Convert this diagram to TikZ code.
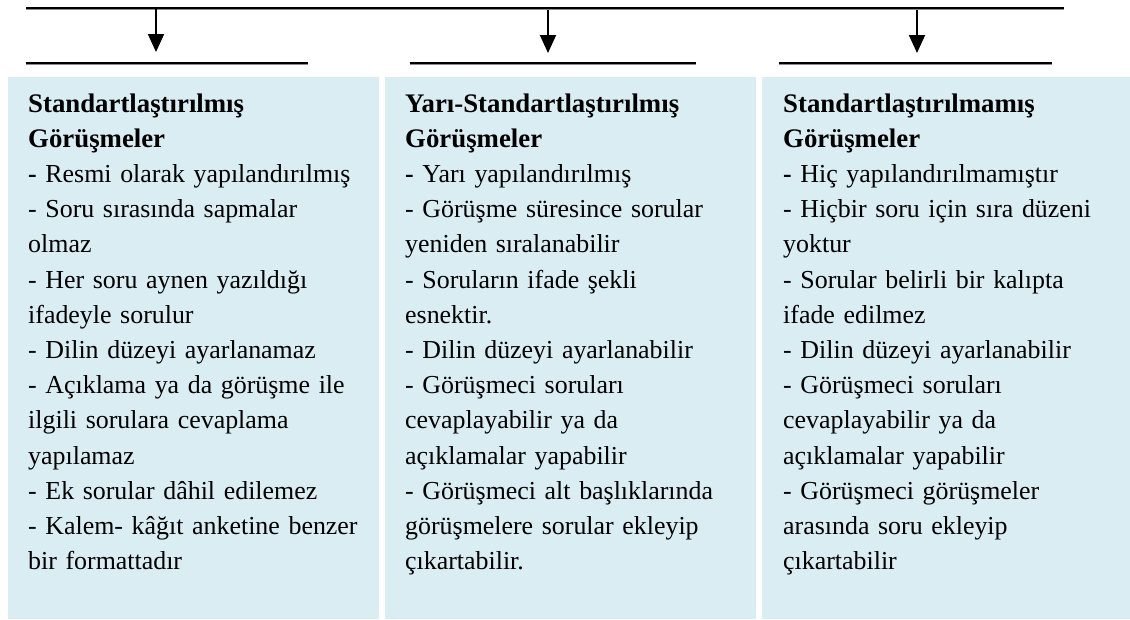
\documentclass[tikz,border=0pt]{standalone}
\usepackage{fontspec}
\setmainfont{Liberation Serif}
\usetikzlibrary{arrows.meta}
\definecolor{boxblue}{HTML}{DAEDF3}
\newcommand{\hd}[1]{{\fontsize{26.8}{35.2}\selectfont\textbf{#1}}}
\tikzset{
  panel/.style={fill=boxblue, draw=none},
  rule/.style={line width=2.4pt, draw=black},
  shade/.style={line width=1.2pt, draw=black!45},
  drop/.style={line width=1.8pt, -{Triangle[length=18pt,width=16pt]}},
  body/.style={anchor=base west, inner sep=0pt, text width=360pt, align=left,
    font=\fontsize{25.9}{35.2}\selectfont}
}
\begin{document}
\begin{tikzpicture}[x=1pt,y=-1pt]
\path[fill=white] (0,0) rectangle (1130,619);
\useasboundingbox (0,0) rectangle (1130,619);
% panels
\path[panel] (8,77) rectangle (379,619);
\path[panel] (385,77) rectangle (756,619);
\path[panel] (762,77) rectangle (1130,619);
% top rule
\coordinate (tl) at (26,8);
\coordinate (tr) at (1064,8);
\draw[shade] (26,9.5) -- (1064,9.5);
\draw[rule] (tl) -- (tr);
% lower rules
\coordinate (l1a) at (26,63); \coordinate (l1b) at (308,63);
\coordinate (l2a) at (410,63); \coordinate (l2b) at (696,63);
\coordinate (l3a) at (779,63); \coordinate (l3b) at (1052,63);
\draw[shade] (26,64.5) -- (308,64.5);
\draw[shade] (410,64.5) -- (696,64.5);
\draw[shade] (779,64.5) -- (1052,64.5);
\draw[rule] (l1a) -- (l1b);
\draw[rule] (l2a) -- (l2b);
\draw[rule] (l3a) -- (l3b);
% arrows
\coordinate (a1s) at (156,8);  \coordinate (a1e) at (156,52);
\coordinate (a2s) at (548,10); \coordinate (a2e) at (548,53);
\coordinate (a3s) at (917,10); \coordinate (a3e) at (917,53);
\draw[drop] (a1s) -- (a1e);
\draw[drop] (a2s) -- (a2e);
\draw[drop] (a3s) -- (a3e);
% texts
\node[body] (t1) at (28,112) {\hd{Standartlaştırılmış}\\
\hd{Görüşmeler}\\
\textbf{-} Resmi olarak yapılandırılmış\\
- Soru sırasında sapmalar\\
olmaz\\
- Her soru aynen yazıldığı\\
ifadeyle sorulur\\
- Dilin düzeyi ayarlanamaz\\
- Açıklama ya da görüşme ile\\
ilgili sorulara cevaplama\\
yapılamaz\\
- Ek sorular dâhil edilemez\\
- Kalem- kâğıt anketine benzer\\
bir formattadır};
\node[body] (t2) at (405,112) {\hd{Yarı-Standartlaştırılmış}\\
\hd{Görüşmeler}\\
\textbf{-} Yarı yapılandırılmış\\
- Görüşme süresince sorular\\
yeniden sıralanabilir\\
- Soruların ifade şekli\\
esnektir.\\
- Dilin düzeyi ayarlanabilir\\
- Görüşmeci soruları\\
cevaplayabilir ya da\\
açıklamalar yapabilir\\
- Görüşmeci alt başlıklarında\\
görüşmelere sorular ekleyip\\
çıkartabilir.};
\node[body] (t3) at (783,112) {\hd{Standartlaştırılmamış}\\
\hd{Görüşmeler}\\
\textbf{-} Hiç yapılandırılmamıştır\\
- Hiçbir soru için sıra düzeni\\
yoktur\\
- Sorular belirli bir kalıpta\\
ifade edilmez\\
- Dilin düzeyi ayarlanabilir\\
- Görüşmeci soruları\\
cevaplayabilir ya da\\
açıklamalar yapabilir\\
- Görüşmeci görüşmeler\\
arasında soru ekleyip\\
çıkartabilir};
\end{tikzpicture}
\end{document}
